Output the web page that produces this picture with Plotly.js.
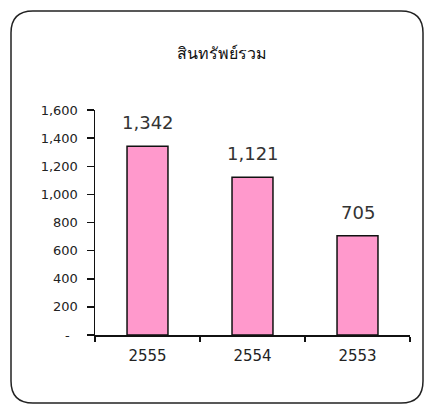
<!DOCTYPE html>
<html>
<head>
<meta charset="utf-8">
<script src="https://cdn.plot.ly/plotly-3.0.1.min.js"></script>
<style>
  html, body { margin: 0; padding: 0; background: #ffffff; }
  #chart { width: 425px; height: 405px; }
</style>
</head>
<body>
<div id="chart"></div>
<script>
// ---- data ----
const chartTitle = "สินทรัพย์รวม";
const years = ["2555", "2554", "2553"];
const totalAssets = [1342, 1121, 705];
const valueLabels = ["1,342", "1,121", "705"];
const yTickValues = [0, 200, 400, 600, 800, 1000, 1200, 1400, 1600];
const yTickLabels = ["-\u00a0\u00a0", "200", "400", "600", "800", "1,000", "1,200", "1,400", "1,600"];

// ---- layout geometry (pixels) ----
const W = 425, H = 405;
const M = { l: 95, r: 15, t: 110, b: 70 };
const plotW = W - M.l - M.r, plotH = H - M.t - M.b;
const px2x = p => (p - M.l) / plotW;
const py2y = p => (H - M.b - p) / plotH;

// rounded frame around the whole chart
const fx0 = 11, fx1 = 423, fy0 = 11, fy1 = 403, rad = 22;
const X = px2x, Y = py2y;
const framePath =
  `M ${X(fx0 + rad)} ${Y(fy0)} L ${X(fx1 - rad)} ${Y(fy0)} ` +
  `Q ${X(fx1)} ${Y(fy0)} ${X(fx1)} ${Y(fy0 + rad)} ` +
  `L ${X(fx1)} ${Y(fy1 - rad)} Q ${X(fx1)} ${Y(fy1)} ${X(fx1 - rad)} ${Y(fy1)} ` +
  `L ${X(fx0 + rad)} ${Y(fy1)} Q ${X(fx0)} ${Y(fy1)} ${X(fx0)} ${Y(fy1 - rad)} ` +
  `L ${X(fx0)} ${Y(fy0 + rad)} Q ${X(fx0)} ${Y(fy0)} ${X(fx0 + rad)} ${Y(fy0)} Z`;

const trace = {
  type: "bar",
  x: years,
  y: totalAssets,
  marker: { color: "#FF99CC", line: { color: "#111111", width: 1.5 } },
  hoverinfo: "none"
};

// value labels placed above each bar (category index on the category axis)
const annotations = years.map((yr, i) => ({
  x: i, y: totalAssets[i], xref: "x", yref: "y",
  text: valueLabels[i], showarrow: false,
  yanchor: "bottom", yshift: 11,
  font: { family: "DejaVu Sans, sans-serif", size: 18, color: "#333333" }
}));

const layout = {
  width: W, height: H,
  margin: M,
  paper_bgcolor: "#ffffff",
  plot_bgcolor: "#ffffff",
  showlegend: false,
  bargap: 0.61,
  title: {
    text: chartTitle,
    x: 222 / W, xref: "container", xanchor: "center",
    y: 1 - 53 / H, yref: "container", yanchor: "middle",
    font: { family: "Noto Sans, DejaVu Sans, sans-serif", size: 16, color: "#111111" }
  },
  xaxis: {
    type: "category",
    range: [-0.5, years.length - 0.5],
    showline: true, linecolor: "#111111", linewidth: 1.5,
    ticks: "outside", tickson: "boundaries", ticklen: 5, tickwidth: 1.5, tickcolor: "#111111",
    showgrid: false, zeroline: false, tickangle: 0,
    ticklabelstandoff: 6,
    tickfont: { family: "DejaVu Sans, sans-serif", size: 15, color: "#222222" }
  },
  yaxis: {
    range: [0, 1600],
    tickmode: "array", tickvals: yTickValues, ticktext: yTickLabels,
    showline: true, linecolor: "#111111", linewidth: 1.5,
    ticks: "outside", ticklen: 7, tickwidth: 1.5, tickcolor: "#111111",
    showgrid: false, zeroline: false,
    ticklabelstandoff: 6,
    tickfont: { family: "DejaVu Sans, sans-serif", size: 13, color: "#222222" }
  },
  annotations: annotations,
  shapes: [{
    type: "path", xref: "paper", yref: "paper",
    path: framePath,
    line: { color: "#222222", width: 1.5 },
    fillcolor: "rgba(0,0,0,0)", layer: "below"
  }]
};

Plotly.newPlot("chart", [trace], layout, { staticPlot: true, displayModeBar: false });
</script>
</body>
</html>
